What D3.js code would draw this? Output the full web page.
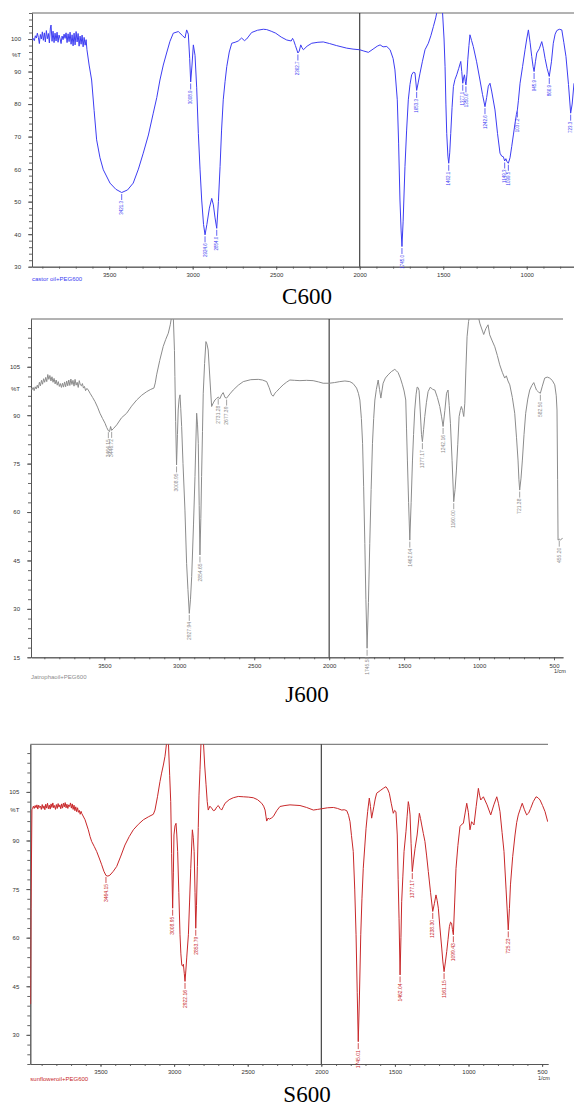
<!doctype html>
<html>
<head>
<meta charset="utf-8">
<style>
    body { margin: 0; background: #fff; }
    text { font-family: "Liberation Sans", Arial, sans-serif; }
    .title { font-family: "Liberation Serif", "Times New Roman", serif; font-size: 23px; fill: #000; }
</style>
<script src="https://d3js.org/d3.v7.min.js"></script>
</head>
<body>
<svg width="574" height="1108"></svg>
<script>
// tick values
var topYTicks = [30, 40, 50, 60, 70, 80, 90, 100];
var topXTicks = [3500, 3000, 2500, 2000, 1500, 1000];
var midYTicks = [15, 30, 45, 60, 75, 90, 105];
var midXTicks = [3500, 3000, 2500, 2000, 1500, 1000, 500];
var botYTicks = [30, 45, 60, 75, 90, 105];
var botXTicks = [3500, 3000, 2500, 2000, 1500, 1000, 500];

// castor oil + PEG600  [wavenumber, %T]
var c600Points = [
    [3962, 99.8], [3955, 100.2], [3948, 99.5], [3942, 101], [3936, 100.3], [3930, 101.8], [3924, 100.5],
    [3918, 98.6], [3912, 101.4], [3906, 100], [3900, 102.2], [3894, 99.6], [3888, 101.9], [3882, 99.1],
    [3876, 102.6], [3870, 100.1], [3864, 101.7], [3858, 98.8], [3852, 103.4], [3848, 104.3], [3842, 99.3],
    [3836, 102.4], [3830, 98.9], [3824, 101.8], [3818, 99.4], [3812, 102.1], [3806, 99], [3800, 101.2],
    [3794, 100.1], [3788, 98.6], [3782, 100.9], [3776, 99.8], [3770, 101.5], [3764, 100.2], [3758, 101.9],
    [3752, 98.9], [3746, 101.6], [3740, 99.2], [3734, 102.1], [3728, 98.4], [3722, 101.3], [3716, 97.9],
    [3710, 101.8], [3704, 98.2], [3698, 102.3], [3692, 99.1], [3686, 101.7], [3680, 97.8], [3674, 100.9],
    [3668, 98.4], [3662, 101.2], [3656, 97.6], [3650, 100.5], [3644, 98.1], [3638, 99.8], [3633, 96.7],
    [3620, 92], [3605, 87.4], [3590, 78], [3575, 69], [3555, 63.5], [3535, 59.8], [3495, 55.7], [3460, 53.8],
    [3425, 52.8], [3390, 53.6], [3356, 55.7], [3325, 60], [3296, 64.9], [3265, 70.5], [3236, 77.2],
    [3215, 82], [3196, 87.4], [3176, 92], [3156, 95.7], [3136, 99.3], [3116, 101.8], [3086, 102.3],
    [3060, 101], [3046, 100.3], [3036, 102.8], [3026, 101.5], [3018, 94], [3012, 86.8], [3004, 92],
    [2996, 98.2], [2986, 95], [2976, 85], [2966, 71], [2956, 60], [2946, 50.5], [2935, 43], [2926, 39.8],
    [2915, 43], [2900, 48], [2886, 51], [2876, 49], [2866, 45], [2856, 41.8], [2846, 50], [2836, 60.8],
    [2827, 72], [2817, 81.3], [2806, 87], [2796, 91.5], [2781, 96], [2766, 98.7], [2746, 99], [2727, 99.4],
    [2707, 100.3], [2690, 99.5], [2677, 100], [2647, 102], [2612, 102.7], [2577, 103], [2557, 102.9],
    [2530, 102.4], [2503, 101.8], [2470, 100.6], [2437, 99.7], [2410, 99.4], [2402, 100.2], [2395, 99.5],
    [2385, 98], [2370, 95.7], [2362, 96.3], [2353, 98.2], [2345, 97.3], [2337, 96.7], [2315, 97.8],
    [2287, 98.7], [2250, 99], [2218, 99.1], [2180, 98.6], [2140, 98], [2078, 97.2], [2040, 96.9],
    [2000, 96.7], [1975, 96.3], [1948, 95.9], [1920, 96.9], [1895, 97.8], [1878, 98.2], [1860, 97.6],
    [1838, 97.7], [1818, 96.7], [1800, 94], [1789, 90.5], [1775, 81.3], [1767, 68], [1759, 50.5],
    [1752, 41], [1747, 36.2], [1740, 44], [1729, 60.8], [1719, 72], [1709, 81.3], [1699, 86], [1689, 89],
    [1679, 89.8], [1669, 89.6], [1659, 84.2], [1650, 86.5], [1639, 89.5], [1625, 93], [1609, 96.7],
    [1589, 98.7], [1574, 101], [1559, 103.8], [1545, 106.5], [1535, 109], [1505, 109], [1495, 100],
    [1489, 91.5], [1484, 80], [1479, 71], [1472, 64], [1467, 61.8], [1461, 65], [1455, 71], [1447, 79],
    [1439, 85.4], [1430, 87.5], [1419, 89], [1407, 91], [1395, 93.1], [1389, 90], [1383, 86.4], [1378, 88],
    [1373, 89], [1368, 87], [1364, 85.9], [1358, 89], [1353, 93.6], [1346, 98], [1340, 101.3], [1330, 99.5],
    [1320, 97.7], [1300, 93], [1280, 87.4], [1265, 83], [1250, 79.2], [1240, 82], [1230, 85.5], [1220, 86.4],
    [1210, 84], [1190, 78.2], [1175, 71], [1160, 64.9], [1150, 64], [1140, 63.8], [1132, 62.5], [1125, 63.2],
    [1118, 62.3], [1110, 61.8], [1100, 63.5], [1090, 66.9], [1080, 70.5], [1070, 74.1], [1062, 76.8],
    [1056, 78.2], [1050, 81], [1040, 86.4], [1025, 91.5], [1010, 96.7], [1000, 100], [990, 102.8], [980, 99],
    [970, 94.6], [962, 91.5], [956, 90], [948, 93], [940, 95.7], [925, 97], [910, 99.2], [900, 97], [890, 94],
    [878, 91], [865, 88.5], [852, 93], [841, 98.7], [830, 101.5], [820, 102.6], [805, 103], [790, 102.8],
    [778, 99], [765, 94.6], [750, 86], [737, 77.2], [728, 80], [717, 86.4]
];

// jatropha oil + PEG600
var j600Points = [
    [3989, 98.4], [3982, 97.9], [3975, 98.6], [3968, 97.6], [3961, 98.8], [3954, 98.1], [3947, 99.3],
    [3940, 98.4], [3933, 100.2], [3926, 99.1], [3919, 100.8], [3912, 99.6], [3905, 101.3], [3898, 100.2],
    [3891, 101.7], [3884, 100.4], [3877, 102.6], [3870, 101.1], [3863, 102.3], [3856, 100.6], [3849, 101.9],
    [3842, 100.2], [3835, 101.4], [3828, 99.7], [3821, 100.9], [3814, 99.3], [3807, 100.4], [3800, 98.9],
    [3793, 99.8], [3786, 98.6], [3779, 99.9], [3772, 98.7], [3765, 100.3], [3758, 98.8], [3751, 100.6],
    [3744, 99.1], [3737, 100.9], [3730, 99.2], [3723, 101.2], [3716, 99.5], [3709, 100.8], [3702, 99],
    [3695, 101.1], [3688, 99.3], [3681, 100.2], [3674, 98.6], [3667, 100.7], [3660, 99.4], [3653, 99.1],
    [3646, 99.8], [3639, 98.4], [3632, 98.9], [3625, 97.6], [3616, 98.3], [3607, 97.8], [3595, 96.8],
    [3578, 95.5], [3562, 94.2], [3545, 92.5], [3529, 90.6], [3512, 89], [3495, 87.5], [3484, 86.2],
    [3473, 85.2], [3465, 84.9], [3458, 86.5], [3451, 85.3], [3440, 85.8], [3417, 87], [3385, 89.2],
    [3351, 90.6], [3318, 92.8], [3284, 94.7], [3250, 96.2], [3217, 97.3], [3190, 98], [3169, 98.4],
    [3160, 100], [3151, 102.5], [3130, 107], [3107, 111.3], [3090, 113.5], [3073, 115.4], [3060, 118],
    [3051, 120.5], [3040, 121], [3032, 110], [3029, 102], [3024, 88], [3018, 74.6], [3012, 84], [3007, 91.6],
    [3001, 95], [2995, 96.3], [2990, 92], [2984, 86.5], [2975, 75], [2962, 60.6], [2951, 44.1], [2942, 36],
    [2933, 28.6], [2925, 33], [2917, 40], [2905, 56], [2895, 71], [2889, 82], [2884, 90.6], [2878, 87],
    [2873, 81.3], [2867, 62], [2862, 46.7], [2856, 58], [2851, 71], [2845, 85], [2840, 96.8], [2831, 106],
    [2822, 112.8], [2815, 112], [2807, 110.2], [2799, 104], [2791, 97.8], [2784, 92.7], [2773, 93.8],
    [2762, 94.7], [2751, 95.2], [2740, 95.6], [2729, 95.1], [2718, 96.3], [2707, 97], [2695, 95.5],
    [2684, 95.3], [2662, 96.6], [2640, 97.8], [2606, 99.3], [2573, 100.4], [2523, 101], [2473, 101.1],
    [2445, 100.9], [2417, 100.4], [2400, 98.5], [2384, 96.3], [2373, 95.9], [2362, 96.8], [2351, 97.3],
    [2329, 98.4], [2307, 99.4], [2285, 100.2], [2262, 100.9], [2230, 100.8], [2195, 100.7], [2150, 100.8],
    [2107, 100.7], [2070, 100.3], [2040, 99.9], [2000, 99.9], [1965, 100.1], [1929, 100.4], [1895, 100.6],
    [1862, 100.4], [1840, 99.8], [1817, 98.4], [1805, 96.8], [1795, 94.7], [1785, 89], [1777, 81.3],
    [1770, 68], [1762, 50.3], [1755, 33], [1747, 17.8], [1738, 32], [1729, 50.3], [1720, 67], [1711, 81.3],
    [1703, 89], [1695, 94.7], [1685, 98], [1673, 100.9], [1664, 98], [1655, 95.3], [1648, 97.5], [1640, 99.9],
    [1625, 101.5], [1607, 102.5], [1585, 103.5], [1562, 104.2], [1550, 103.7], [1540, 103.2], [1525, 101.5],
    [1511, 99.4], [1500, 97.5], [1489, 94.7], [1484, 86], [1478, 76.1], [1470, 63], [1462, 51.3], [1453, 63],
    [1444, 76.1], [1437, 84], [1429, 91.6], [1420, 96.5], [1413, 98.7], [1406, 98.5], [1400, 97.6], [1392, 91],
    [1384, 84], [1378, 81.8], [1370, 85.5], [1362, 89.6], [1351, 94], [1340, 97.3], [1325, 98.7], [1310, 98],
    [1295, 97.8], [1278, 95.5], [1262, 92.7], [1250, 89.5], [1240, 86.5], [1228, 91.5], [1217, 96.8],
    [1207, 97.8], [1199, 93], [1191, 87.5], [1180, 76], [1169, 63.2], [1160, 67], [1151, 73], [1142, 81],
    [1133, 89.6], [1125, 91.5], [1118, 92.7], [1110, 91.5], [1102, 89.6], [1095, 93.7], [1088, 104],
    [1080, 114.3], [1070, 119], [1062, 121], [1007, 121], [995, 118.5], [984, 117], [975, 115.8], [969, 115],
    [955, 116.8], [940, 118], [929, 114.9], [912, 113], [895, 111.2], [878, 108.5], [862, 105.6], [845, 103.3],
    [829, 101.5], [818, 102.2], [807, 100.6], [795, 99.4], [778, 95.5], [762, 90.6], [750, 83], [740, 76.1],
    [734, 70], [729, 66.8], [720, 70.5], [711, 76.1], [700, 84], [689, 90.6], [675, 95], [662, 97.8],
    [648, 99.2], [635, 100.1], [625, 98.8], [617, 97.8], [604, 97.2], [591, 96.8], [578, 99], [562, 101.5],
    [545, 101.8], [529, 101.5], [512, 100.8], [495, 99.4], [485, 96], [480, 91.6], [476, 70], [473, 51.3],
    [465, 51.6], [457, 51.3], [442, 52]
];

// sunflower oil + PEG600
var s600Points = [
    [3975, 39.5], [3972, 69], [3966, 99.5],
    [3962, 99.8], [3956, 100.6], [3950, 99.9], [3944, 100.8], [3938, 100.1], [3932, 101], [3926, 99.7],
    [3920, 100.9], [3914, 100.2], [3908, 100.6], [3902, 99.6], [3896, 101.1], [3890, 99.9], [3884, 100.7],
    [3878, 99.5], [3872, 101.2], [3866, 100], [3860, 101.5], [3854, 99.8], [3848, 100.9], [3842, 99.7],
    [3836, 101.3], [3830, 100.2], [3824, 101.6], [3818, 100.1], [3812, 100.8], [3806, 99.6], [3800, 101.1],
    [3794, 99.9], [3788, 101.4], [3782, 100.3], [3776, 101], [3770, 99.8], [3764, 101.3], [3758, 100],
    [3752, 101.5], [3746, 100.4], [3740, 101.7], [3734, 100.1], [3728, 101.2], [3722, 99.9], [3716, 101],
    [3710, 100.5], [3704, 101.6], [3698, 100], [3692, 101.3], [3686, 99.6], [3680, 100.9], [3674, 99.2],
    [3668, 100.4], [3662, 98.9], [3656, 100.1], [3650, 98.7], [3644, 99.3], [3638, 98.1], [3632, 99],
    [3628, 98.4], [3605, 96.4], [3583, 93.3], [3571, 91.2], [3560, 89.7], [3543, 88.2], [3526, 86.6],
    [3509, 84.6], [3492, 82.5], [3477, 80.5], [3463, 79.2], [3450, 79], [3436, 79.3], [3413, 80.5],
    [3390, 82], [3362, 85.2], [3334, 88.6], [3305, 91.2], [3277, 93.3], [3243, 95], [3209, 96.4],
    [3175, 97.3], [3141, 98.1], [3130, 99.4], [3113, 103.5], [3096, 108.2], [3085, 110.8], [3073, 113.3],
    [3062, 116], [3050, 120.5], [3039, 120.5], [3030, 110], [3023, 102], [3017, 86], [3010, 69.1],
    [3005, 80], [3001, 91.7], [2994, 94.5], [2987, 95.3], [2982, 92], [2976, 86.6], [2968, 74], [2960, 60.9],
    [2954, 55], [2948, 51.6], [2942, 51.2], [2937, 51.8], [2931, 49], [2926, 46.5], [2920, 50], [2914, 54],
    [2903, 60.9], [2895, 71], [2887, 81.4], [2881, 88], [2876, 93.3], [2870, 91], [2864, 86.6], [2858, 74],
    [2853, 62.9], [2848, 70], [2842, 82], [2836, 94], [2831, 104], [2824, 112], [2817, 120.5], [2801, 120.5],
    [2792, 113], [2783, 107.2], [2775, 102], [2768, 99.4], [2757, 100.6], [2745, 100], [2733, 99.2],
    [2722, 99.4], [2711, 100.3], [2700, 100.8], [2688, 99.9], [2677, 99.4], [2665, 100.5], [2654, 101.5],
    [2626, 102.6], [2598, 103.2], [2564, 103.6], [2530, 103.5], [2496, 103.4], [2462, 103.2], [2433, 102.6],
    [2405, 101.5], [2392, 100.6], [2382, 99.4], [2376, 97.5], [2371, 96], [2362, 96.9], [2353, 96.6],
    [2340, 96.9], [2326, 97.4], [2303, 99.2], [2281, 100.5], [2247, 100.8], [2213, 101], [2179, 100.9],
    [2145, 100.8], [2100, 100.2], [2054, 99.4], [2025, 99.6], [1998, 99.8], [1958, 100.1], [1918, 100.2],
    [1890, 99.9], [1861, 99.4], [1844, 99.5], [1827, 99.2], [1815, 97.8], [1805, 95.8], [1795, 91.5],
    [1783, 86.6], [1773, 75], [1764, 60.9], [1756, 43], [1749, 27.9], [1741, 42], [1732, 60.9], [1724, 72],
    [1715, 81.4], [1705, 88], [1696, 93.8], [1685, 99], [1674, 103.1], [1666, 100.5], [1658, 96.9],
    [1650, 98.8], [1643, 100.5], [1634, 102.8], [1624, 104.6], [1600, 105.4], [1579, 106.1], [1561, 106.6],
    [1550, 105.9], [1538, 104.6], [1525, 101.5], [1511, 98.4], [1502, 99.3], [1493, 98.9], [1484, 91.7],
    [1478, 78], [1472, 66], [1465, 48.5], [1459, 60], [1454, 71.1], [1446, 79], [1438, 86.6], [1425, 92.7],
    [1417, 97.5], [1409, 102], [1403, 100.5], [1397, 97.9], [1390, 89], [1382, 80.4], [1373, 84],
    [1363, 87.6], [1349, 91.7], [1334, 98.4], [1326, 96.8], [1318, 94.8], [1307, 92.2], [1296, 89.7],
    [1285, 85.5], [1273, 80.4], [1258, 74], [1243, 68.1], [1232, 70.5], [1221, 73.2], [1213, 71.5],
    [1205, 69.1], [1194, 63], [1182, 56.8], [1174, 52.5], [1166, 49.5], [1157, 52.5], [1148, 55.7],
    [1139, 59.5], [1130, 63.4], [1122, 64.8], [1115, 64.5], [1109, 62.5], [1103, 60.9], [1094, 71],
    [1085, 81.4], [1072, 88.5], [1058, 94.3], [1046, 95], [1035, 95.3], [1023, 98.5], [1012, 101.5],
    [1001, 98.7], [990, 93.3], [979, 95.8], [971, 95.3], [963, 94.8], [948, 100.5], [933, 106.1], [925, 104],
    [917, 102.5], [899, 103.5], [874, 101], [849, 97.9], [828, 101], [808, 103.5], [797, 101.5], [786, 98.9],
    [772, 92.5], [759, 86.6], [745, 75], [730, 62.4], [722, 69], [715, 76.3], [700, 85], [684, 91.7],
    [673, 95.5], [662, 97.9], [648, 99.8], [635, 101.5], [620, 99.5], [605, 97.9], [591, 98.5], [578, 99.9],
    [560, 102], [541, 103.5], [528, 103.2], [514, 102.5], [497, 100.8], [480, 98.9], [462, 95.8]
];

// peak labels [wavenumber, %T at the dip, label]
var c600Peaks = [
    [3425, 52.8, "3421.3"], [3012, 86.8, "3008.9"], [2926, 39.8, "2924.6"], [2856, 41.8, "2854.0"],
    [2370, 95.7, "2362.7"], [1747, 36.2, "1745.0"], [1659, 84.2, "1653.3"], [1467, 61.8, "1462.1"],
    [1383, 86.4, "1377.1"], [1364, 85.9, "1350.6"], [1250, 79.2, "1242.6"], [1132, 62.5, "1149.3"],
    [1110, 61.8, "1099.5"], [1056, 78.2, "1037.2"], [956, 90, "945.9"], [865, 88.5, "866.9"],
    [737, 77.2, "723.3"]
];
var j600Peaks = [
    [3473, 85.2, "3464.15"], [3451, 85.3, "3446.72"], [3018, 74.6, "3008.95"], [2933, 28.6, "2927.94"],
    [2862, 46.7, "2854.65"], [2740, 95.6, "2731.28"], [2684, 95.3, "2677.39"], [1747, 17.8, "1745.58"],
    [1462, 51.3, "1462.04"], [1378, 81.8, "1377.17"], [1240, 86.5, "1242.16"], [1169, 63.2, "1160.00"],
    [729, 66.8, "721.38"], [591, 96.8, "582.50"], [465, 51.6, "455.20"]
];
var s600Peaks = [
    [3463, 79.2, "3464.15"], [3010, 69.1, "3008.95"], [2926, 46.5, "2922.16"], [2853, 62.9, "2853.79"],
    [1749, 27.9, "1745.01"], [1465, 48.5, "1462.04"], [1382, 80.4, "1377.17"], [1243, 68.1, "1238.30"],
    [1166, 49.5, "1161.15"], [1103, 60.9, "1099.43"], [730, 62.4, "725.23"]
];

var svg = d3.select("svg");

svg.append("rect").attr("width", 574).attr("height", 1108).attr("fill", "#fff");

function minorValues(lo, hi, step) {
    return d3.range(lo, hi + 0.001, step);
}

function drawPanel(p) {
    var x = d3.scaleLinear().domain(p.xDomain).range([p.left, p.right]),
        y = d3.scaleLinear().domain(p.yDomain).range([p.bottom, p.top]);

    var g = svg.append("g");

    g.append("clipPath").attr("id", p.id + "-clip")
     .append("rect")
     .attr("x", p.left).attr("y", p.top)
     .attr("width", p.right - p.left).attr("height", p.bottom - p.top);

    // minor ticks first
    g.append("g")
     .attr("transform", "translate(0," + p.bottom + ")")
     .call(d3.axisBottom(x).tickValues(p.xMinor).tickSize(2).tickSizeOuter(0).tickFormat(""));
    g.append("g")
     .attr("transform", "translate(" + p.left + ",0)")
     .call(d3.axisLeft(y).tickValues(p.yMinor).tickSize(3).tickSizeOuter(0).tickFormat(""));

    // major ticks
    g.append("g")
     .attr("transform", "translate(0," + p.bottom + ")")
     .call(d3.axisBottom(x).tickValues(p.xTicks).tickSize(3).tickPadding(3).tickSizeOuter(0).tickFormat(d3.format("d")));
    g.append("g")
     .attr("transform", "translate(" + p.left + ",0)")
     .call(d3.axisLeft(y).tickValues(p.yTicks).tickSize(4).tickPadding(7).tickSizeOuter(0).tickFormat(d3.format("d")));

    g.selectAll(".domain, .tick line").attr("stroke", "#555").attr("stroke-width", 0.9);
    g.selectAll(".tick text").attr("font-size", 6).attr("fill", "#333")
     .attr("font-family", "'Liberation Sans', Arial, sans-serif");

    // top frame line
    g.append("line")
     .attr("x1", p.left).attr("x2", p.right)
     .attr("y1", p.top).attr("y2", p.top)
     .attr("stroke", "#555").attr("stroke-width", 0.9);

    // divider at 2000 1/cm
    g.append("line")
     .attr("x1", x(2000)).attr("x2", x(2000))
     .attr("y1", p.top).attr("y2", p.bottom)
     .attr("stroke", "#333").attr("stroke-width", 1.1);

    // spectrum
    var line = d3.line()
        .x(function(d) { return x(d[0]); })
        .y(function(d) { return y(d[1]); });

    g.append("path")
     .datum(p.points)
     .attr("clip-path", "url(#" + p.id + "-clip)")
     .attr("d", line)
     .attr("fill", "none")
     .attr("stroke", p.color)
     .attr("stroke-width", 1)
     .attr("stroke-linejoin", "round");

    // peak markers
    var pk = g.selectAll(".peak").data(p.peaks).enter().append("g").attr("class", "peak");
    pk.append("line")
      .attr("x1", function(d) { return x(d[0]); })
      .attr("x2", function(d) { return x(d[0]); })
      .attr("y1", function(d) { return y(d[1]) + 1.5; })
      .attr("y2", function(d) { return y(d[1]) + 7.5; })
      .attr("stroke", p.color).attr("stroke-width", 0.8);
    pk.append("text")
      .attr("transform", function(d) {
          return "translate(" + x(d[0]) + "," + (y(d[1]) + 8.5) + ") rotate(-90)";
      })
      .attr("text-anchor", "end")
      .attr("dy", "0.35em")
      .attr("font-size", p.peakFont)
      .attr("fill", p.color)
      .text(function(d) { return d[2]; });

    // %T label
    g.append("text")
     .attr("x", p.left - 11).attr("y", y(p.pctAt))
     .attr("dy", "0.35em")
     .attr("text-anchor", "end")
     .attr("font-size", 6).attr("fill", "#333")
     .text("%T");

    // sample caption
    g.append("text")
     .attr("x", p.left).attr("y", p.captionY)
     .attr("font-size", 6).attr("fill", p.color)
     .text(p.caption);

    if (p.unitX) {
        g.append("text")
         .attr("x", p.unitX).attr("y", p.bottom + 16)
         .attr("font-size", 5.5).attr("fill", "#333")
         .text("1/cm");
    }

    svg.append("text")
       .attr("class", "title")
       .attr("x", 307).attr("y", p.titleY)
       .attr("text-anchor", "middle")
       .text(p.title);
}

drawPanel({
    id: "c600", title: "C600", caption: "castor oil+PEG600", color: "#3d3df2",
    left: 32, right: 574, top: 13, bottom: 266.7,
    xDomain: [3962, 717], yDomain: [30, 108],
    xTicks: topXTicks, yTicks: topYTicks,
    xMinor: minorValues(800, 3900, 100), yMinor: minorValues(30, 108, 2),
    points: c600Points, peaks: c600Peaks, peakFont: 4.5,
    pctAt: 95, captionY: 281, titleY: 304, unitX: null
});

drawPanel({
    id: "j600", title: "J600", caption: "Jatrophaoil+PEG600", color: "#8c8c8c",
    left: 31, right: 563, top: 319, bottom: 657.3,
    xDomain: [3989, 440], yDomain: [15, 119.8],
    xTicks: midXTicks, yTicks: midYTicks,
    xMinor: minorValues(500, 3900, 100), yMinor: minorValues(15, 117, 3),
    points: j600Points, peaks: j600Peaks, peakFont: 5,
    pctAt: 98, captionY: 679, titleY: 702, unitX: 554
});

drawPanel({
    id: "s600", title: "S600", caption: "sunfloweroil+PEG600", color: "#c8282a",
    left: 30.3, right: 548, top: 744.3, bottom: 1064,
    xDomain: [3977, 460], yDomain: [21, 119.7],
    xTicks: botXTicks, yTicks: botYTicks,
    xMinor: minorValues(500, 3900, 100), yMinor: minorValues(21, 117, 3),
    points: s600Points, peaks: s600Peaks, peakFont: 5,
    pctAt: 99.5, captionY: 1081, titleY: 1102, unitX: 538
});
</script>
</body>
</html>
